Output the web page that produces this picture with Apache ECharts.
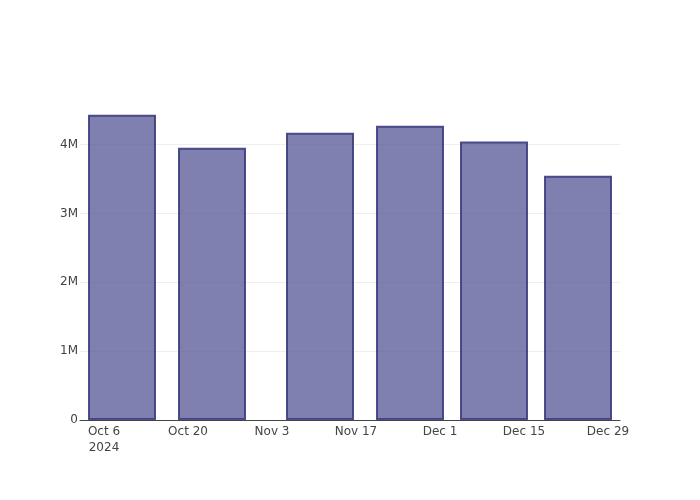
<!DOCTYPE html>
<html>
<head>
<meta charset="utf-8">
<script src="https://cdn.jsdelivr.net/npm/echarts@6/dist/echarts.min.js"></script>
<style>html,body{margin:0;padding:0;background:#fff}#c{width:700px;height:500px}</style>
</head>
<body>
<div id="c"></div>
<script>
// Data: bar dates as day offsets from Oct 6 2024, and values
const barDays = [3, 18, 36, 51, 65, 79];      // Oct 9, Oct 24, Nov 11, Nov 26, Dec 10, Dec 24
const barValues = [4437000, 3957000, 4175000, 4277000, 4048000, 3549000];
const xTickDays = [0, 14, 28, 42, 56, 70, 84];
const xTickLabels = ['Oct 6\n2024', 'Oct 20', 'Nov 3', 'Nov 17', 'Dec 1', 'Dec 15', 'Dec 29'];
const yTickValues = [0, 1000000, 2000000, 3000000, 4000000];
const yTickLabels = ['0', '1M', '2M', '3M', '4M'];

const chart = echarts.init(document.getElementById('c'), null, {renderer: 'canvas'});
const font = '"DejaVu Sans", "Open Sans", sans-serif';
chart.setOption({
  animation: false,
  backgroundColor: '#fff',
  grid: {left: 80, right: 80, top: 100, bottom: 80, containLabel: false},
  xAxis: {
    type: 'value',
    min: -4, max: 86,
    axisLine: {show: true, onZero: false, lineStyle: {color: '#444', width: 1}},
    axisTick: {show: false},
    splitLine: {show: false},
    axisLabel: {
      customValues: xTickDays,
      color: '#444', fontSize: 12, fontFamily: font, margin: 4, lineHeight: 16,
      formatter: v => { const i = xTickDays.indexOf(v); return i >= 0 ? xTickLabels[i] : ''; }
    }
  },
  yAxis: {
    type: 'value',
    min: 0, max: 4650000, interval: 1000000,
    axisLine: {show: false},
    axisTick: {show: false},
    splitLine: {show: true, showMinLine: false, showMaxLine: false, lineStyle: {color: '#eeeeee', width: 1}},
    axisLabel: {
      color: '#444', fontSize: 12, fontFamily: font, margin: 2, showMaxLabel: false,
      formatter: v => { const i = yTickValues.indexOf(v); return i >= 0 ? yTickLabels[i] : ''; }
    }
  },
  series: [{
    type: 'bar',
    data: barDays.map((d, i) => [d, barValues[i]]),
    barWidth: 68,
    itemStyle: {color: 'rgba(86,86,150,0.75)', borderColor: 'rgba(60,60,128,0.9)', borderWidth: 2}
  }]
});
</script>
</body>
</html>
